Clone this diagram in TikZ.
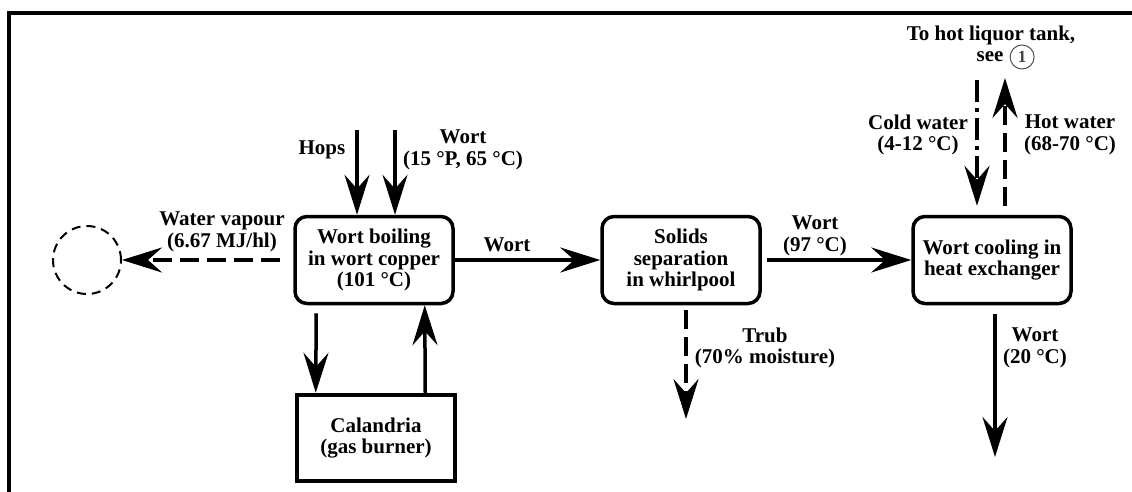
\documentclass[tikz,border=0pt]{standalone}
\usepackage{fontspec}
\setmainfont{Liberation Serif}
\usetikzlibrary{arrows.meta,positioning}
\tikzset{
  proc/.style={draw,rounded corners=12pt,line width=3.5pt,minimum width=158pt,minimum height=87pt,align=center},
  flow/.style={line width=3.5pt,-{Stealth[length=40pt,width=25pt,inset=14pt]}},
  dflow/.style={flow,dash pattern=on 19pt off 8pt},
  ddflow/.style={flow,dash pattern=on 22pt off 6pt on 4pt off 6pt},
  lbl/.style={align=center}
}
\begin{document}
\begin{tikzpicture}[x=1pt,y=-1pt,inner sep=1pt,font=\fontsize{21}{21.5}\selectfont\bfseries]
\useasboundingbox (0,0) rectangle (1132,491);
\draw[line width=3.5pt] (9,495) -- (9,13) -- (1136,13);

\node[proc] (boil) at (374,260) {Wort boiling\\in wort copper\\(101 °C)};
\node[proc] (whirl) at (681,260) {Solids\\separation\\in whirlpool};
\node[proc] (cool) at (992,260) {Wort cooling in\\heat exchanger};
\node[draw,line width=4.5pt,minimum width=158pt,minimum height=86pt,align=center] (cal) at (376,438) {Calandria\\(gas burner)};
\node[draw,circle,line width=2pt,dash pattern=on 9pt off 6pt,minimum size=68pt] (sink) at (87,260) {};

\coordinate (hops) at (357,130);
\coordinate (wortin) at (395,130);
\draw[flow] (hops) -- (hops |- boil.north);
\draw[flow] (wortin) -- (wortin |- boil.north);
\node (hopslbl) at (322,150) {Hops};
\node[lbl] (wortinlbl) at (463,150) {Wort\\(15 °P, 65 °C)};

\draw[dflow,shorten <=13pt] (boil.west) -- (sink);
\node[lbl] (vaplbl) at (222,232) {Water vapour\\(6.67 MJ/hl)};

\draw[flow,shorten <=8pt] ([xshift=23pt]boil.south west) -- ([xshift=21pt]cal.north west);
\draw[flow] ([xshift=-32pt]cal.north east) -- ([xshift=-30pt]boil.south east);

\draw[flow] (boil) -- (whirl);
\node (wort1lbl) at (507,245) {Wort};
\draw[flow,shorten <=5pt] (whirl) -- (cool);
\node[lbl] (wort2lbl) at (815,236) {Wort\\(97 °C)};

\coordinate (trubout) at (686,419);
\draw[dflow,shorten <=5pt] (trubout |- whirl.south) -- (trubout);
\node[lbl] (trublbl) at (765,348) {Trub\\(70\% moisture)};

\coordinate (wortout) at (995,457);
\draw[flow,shorten <=9pt] (wortout |- cool.south) -- (wortout);
\node[lbl] (wortoutlbl) at (1035,348) {Wort\\(20 °C)};

\coordinate (coldin) at (977,80);
\coordinate (hotout) at (1005,78);
\draw[ddflow,shorten >=9pt] (coldin) -- (coldin |- cool.north);
\draw[dflow,shorten <=9pt] (hotout |- cool.north) -- (hotout);
\node[lbl] (coldlbl) at (918,135) {Cold water\\(4-12 °C)};
\node[lbl] (hotlbl) at (1070,135) {Hot water\\(68-70 °C)};

\node (tank) at (991,35) {To hot liquor tank,};
\node (see) at (990,57) {see};
\node[circle,draw=black!70,line width=1pt,minimum size=24pt,inner sep=0pt,text=black!75,font=\fontsize{17}{17}\selectfont\bfseries,right=5pt of see] (ref1) {1};
\end{tikzpicture}
\end{document}
